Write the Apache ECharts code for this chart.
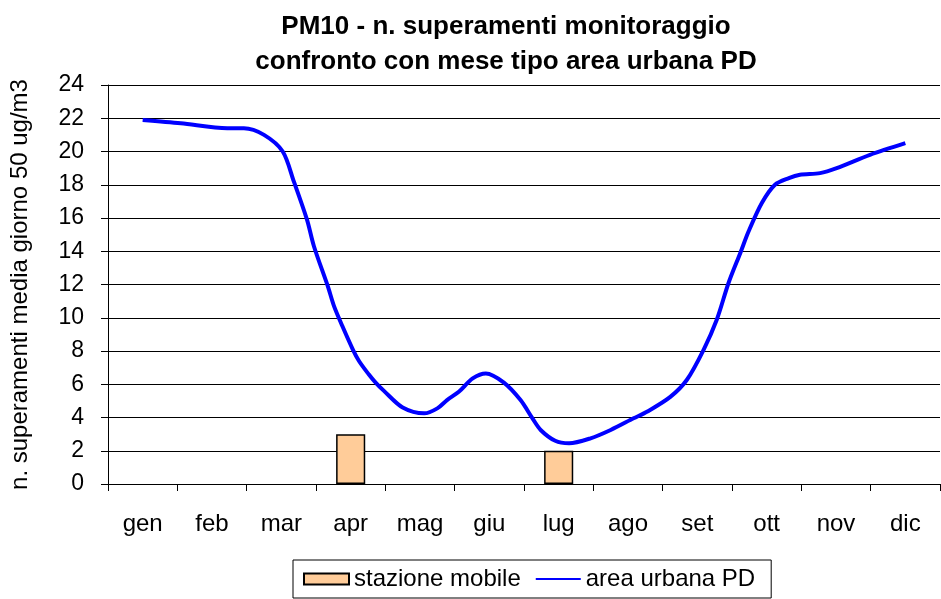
<!DOCTYPE html>
<html>
<head>
<meta charset="utf-8">
<script src="https://cdn.jsdelivr.net/npm/echarts@6/dist/echarts.min.js"></script>
<style>
  html, body { margin: 0; padding: 0; background: #fff; }
  #chart { width: 941px; height: 599px; }
</style>
</head>
<body>
<div id="chart"></div>
<script>
// categorie (mesi)
var months = ['gen', 'feb', 'mar', 'apr', 'mag', 'giu', 'lug', 'ago', 'set', 'ott', 'nov', 'dic'];
// stazione mobile - superamenti per mese
var stazioneMobile = [null, null, null, 3, null, null, 2, null, null, null, null, null];
// area urbana PD - posizione nel mese (0 = gen) e valore
var urbanMonth = [0, 0.55, 1.22, 1.46, 1.75, 2.02, 2.18, 2.37, 2.47, 2.67, 2.76, 2.88, 3.03, 3.12, 3.26,
    3.36, 3.48, 3.75, 4.06, 4.25, 4.39, 4.56, 4.76, 4.95, 5.21, 5.45, 5.62, 5.74, 5.95, 6.15,
    6.46, 6.75, 7.08, 7.28, 7.61, 7.85, 8.09, 8.28, 8.45, 8.62, 8.74, 8.93, 9.12, 9.32, 9.48,
    9.77, 10.01, 10.49, 11];
var urbanValue = [21.9, 21.7, 21.4, 21.4, 21.0, 20.0, 18.2, 15.9, 14.3, 11.9, 10.7, 9.5, 8.1, 7.4, 6.6,
    6.1, 5.6, 4.6, 4.25, 4.55, 5.05, 5.55, 6.35, 6.65, 6.1, 5.05, 3.96, 3.25, 2.6, 2.45,
    2.75, 3.25, 3.95, 4.36, 5.24, 6.27, 8.07, 9.88, 12.09, 13.9, 15.2, 16.9, 18.0, 18.4, 18.6,
    18.7, 19.0, 19.8, 20.5];
var yTicks = { min: 0, max: 24, step: 2 };

var FONT = '"Liberation Sans", Arial, sans-serif';

var myChart = echarts.init(document.getElementById('chart'));

var urbanData = [];
for (var i = 0; i < urbanMonth.length; i++) {
    urbanData.push([urbanMonth[i], urbanValue[i]]);
}

var option = {
    animation: false,
    backgroundColor: '#fff',
    textStyle: { fontFamily: FONT },
    title: {
        text: 'PM10 - n. superamenti monitoraggio\nconfronto con mese tipo area urbana PD',
        left: 501,
        top: 4,
        textAlign: 'center',
        textStyle: {
            fontFamily: FONT,
            fontSize: 26,
            fontWeight: 'bold',
            color: '#000',
            lineHeight: 35
        }
    },
    grid: {
        left: 107,
        right: 1,
        top: 85,
        bottom: 115
    },
    legend: {
        left: 293,
        top: 560,
        padding: [7, 16, 7, 10],
        borderColor: '#000',
        borderWidth: 1,
        itemWidth: 45,
        itemHeight: 11,
        itemGap: 14,
        textStyle: { fontFamily: FONT, fontSize: 24, color: '#000' },
        data: [
            { name: 'stazione mobile', icon: 'rect' },
            { name: 'area urbana PD', itemStyle: { opacity: 0 } }
        ]
    },
    xAxis: [
        {
            type: 'category',
            data: months,
            boundaryGap: true,
            axisLine: { lineStyle: { color: '#000', width: 1 } },
            axisTick: { show: true, length: 7, lineStyle: { color: '#000' } },
            axisLabel: { margin: 28, fontSize: 24, color: '#000', fontFamily: FONT }
        },
        {
            type: 'value',
            min: -0.5,
            max: 11.5,
            show: false
        }
    ],
    yAxis: {
        type: 'value',
        min: yTicks.min,
        max: yTicks.max,
        interval: yTicks.step,
        name: 'n. superamenti media giorno 50 ug/m3',
        nameLocation: 'middle',
        nameGap: 76,
        nameTextStyle: { fontSize: 24, color: '#000', fontFamily: FONT },
        axisLine: { show: true, onZero: false, lineStyle: { color: '#000' } },
        axisTick: { show: true, length: 7, lineStyle: { color: '#000' } },
        axisLabel: { margin: 24, fontSize: 23, color: '#000', fontFamily: FONT },
        splitLine: { show: true, lineStyle: { color: '#000', width: 1 } }
    },
    series: [
        {
            name: 'stazione mobile',
            type: 'bar',
            xAxisIndex: 0,
            barWidth: '42%',
            itemStyle: {
                color: '#FFCC99',
                borderColor: '#000',
                borderWidth: 1.5
            },
            data: stazioneMobile
        },
        {
            name: 'area urbana PD',
            type: 'line',
            xAxisIndex: 1,
            smooth: 0.3,
            symbol: 'none',
            lineStyle: { color: '#0000FF', width: 4 },
            itemStyle: { color: '#0000FF' },
            data: urbanData
        }
    ]
};

myChart.setOption(option);
</script>
</body>
</html>
